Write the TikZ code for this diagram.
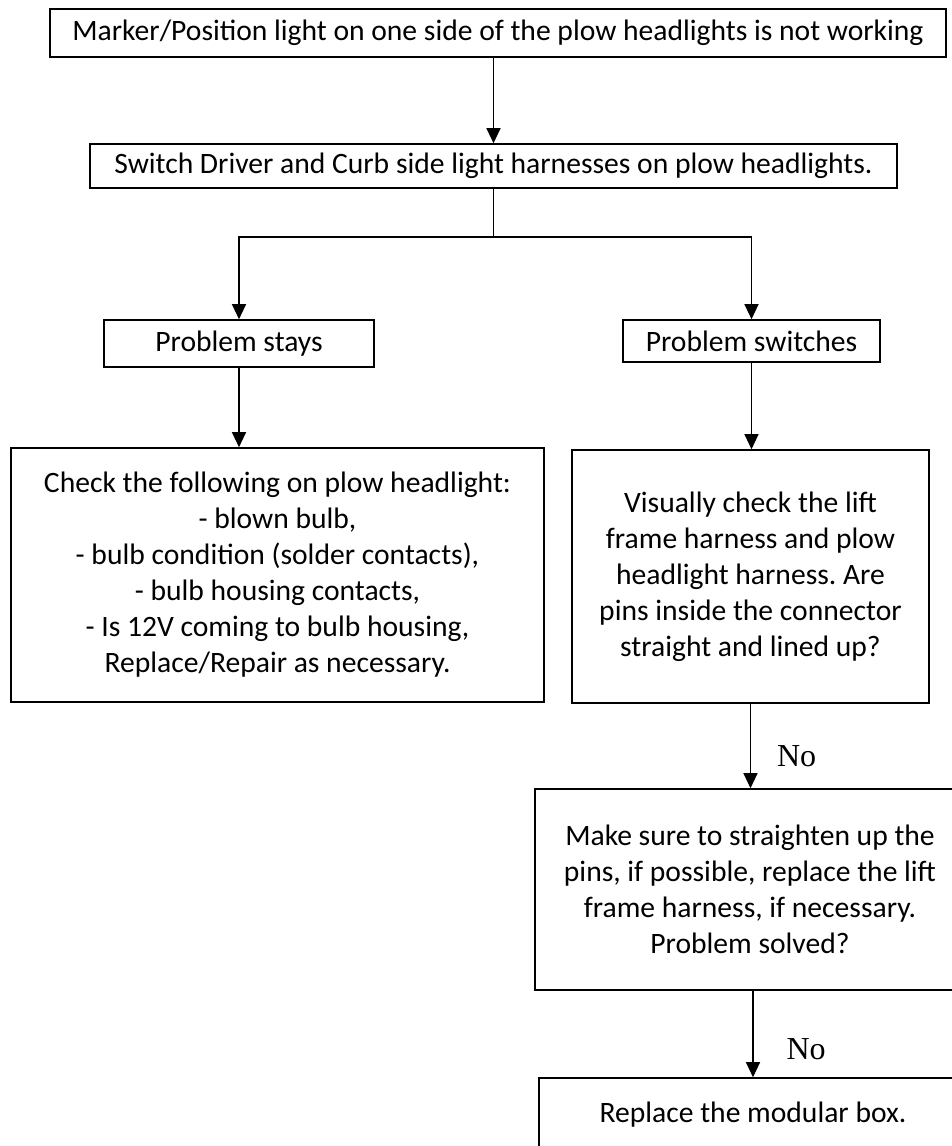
\documentclass[tikz,border=0pt]{standalone}
\usepackage{fontspec}
\setmainfont{Carlito}
\newfontfamily\nofont{Liberation Serif}
\usetikzlibrary{arrows.meta}
\frenchspacing
\begin{document}
\begin{tikzpicture}[x=0.5pt, y=-0.5pt,
        box/.style={draw, line width=0.8pt, align=center, inner sep=0pt,
            font=\fontsize{14.8}{18}\selectfont},
        arr/.style={-{Triangle[length=7.5pt, width=7pt]}, line width=0.6pt},
        nolabel/.style={font=\nofont\fontsize{16}{18}\selectfont, anchor=west, inner sep=0pt}]
            \clip (0,0) rectangle (952,1146);

            \node[box, minimum width=448pt, minimum height=24pt](fault) at (498,33)
                {Marker/Position light on one side of the plow headlights is not working};
            \node[box, minimum width=403.5pt, minimum height=22pt](swap) at (493.5,166)
                {Switch Driver and Curb side light harnesses on plow headlights.};
            \node[box, minimum width=135pt, minimum height=23.5pt](stays) at (239,343.5)
                {Problem stays};
            \node[box, minimum width=128.5pt, minimum height=21pt](switches) at (751.5,341)
                {Problem switches};
            \node[box, minimum width=266.5pt, minimum height=127pt](bulb) at (277.5,575)
                {Check the following on plow headlight:\\
                 - blown bulb,\\
                 - bulb condition (solder contacts),\\
                 - bulb housing contacts,\\
                 - Is 12V coming to bulb housing,\\
                 Replace/Repair as necessary.};
            \node[box, minimum width=178.5pt, minimum height=126.5pt](pins) at (750.5,576.5)
                {Visually check the lift\\
                 frame harness and plow\\
                 headlight harness. Are\\
                 pins inside the connector\\
                 straight and lined up?};
            \node[box, minimum width=215pt, minimum height=100.5pt](straighten) at (750,889.5)
                {Make sure to straighten up the\\
                 pins, if possible, replace the lift\\
                 frame harness, if necessary.\\
                 Problem solved?};
            \node[box, minimum width=214pt, minimum height=37pt](modbox) at (753,1115)
                {Replace the modular box.};

            \coordinate(fork) at (493.5,237);

            \draw[arr] (swap.north |- fault.south) -- (swap.north);
            \draw[line width=0.6pt] (swap.south) -- (fork);
            \draw[arr] (fork) -| (stays.north);
            \draw[arr] (fork) -| (switches.north);
            \draw[arr] (stays.south) -- (stays.south |- bulb.north);
            \draw[arr] (switches.south) -- (switches.south |- pins.north);
            \draw[arr] (pins.south) -- (pins.south |- straighten.north)
                node[nolabel, pos=0.62, xshift=13pt] {No};
            \draw[arr] (straighten.south -| modbox) -- (modbox.north)
                node[nolabel, pos=0.67, xshift=16.5pt] {No};
        \end{tikzpicture}
\end{document}
